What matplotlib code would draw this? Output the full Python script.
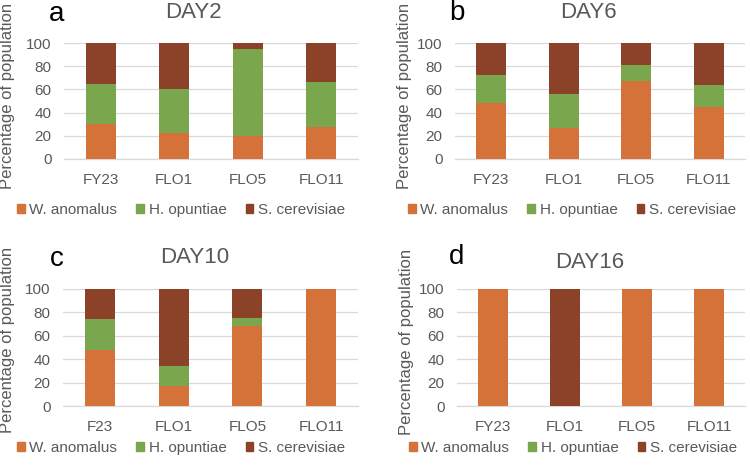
import matplotlib
matplotlib.use("Agg")
import matplotlib.pyplot as plt
from matplotlib.patches import Patch

plt.rcParams["font.family"] = ["Liberation Sans", "DejaVu Sans"]

species = ["W. anomalus", "H. opuntiae", "S. cerevisiae"]
colors = ["#D57239", "#7AA64E", "#8C4129"]

strains = ["FY23", "FLO1", "FLO5", "FLO11"]
strains_c = ["F23", "FLO1", "FLO5", "FLO11"]

# percentages per strain: W. anomalus, H. opuntiae, S. cerevisiae
day2_w = [30, 22, 20, 28]
day2_h = [35, 38, 75, 38]
day2_s = [35, 40, 5, 34]

day6_w = [48, 27, 67, 45]
day6_h = [24, 29, 14, 19]
day6_s = [28, 44, 19, 36]

day10_w = [48, 17, 68.5, 100]
day10_h = [26, 17, 6.5, 0]
day10_s = [26, 66, 25, 0]

day16_w = [100, 0, 100, 100]
day16_h = [0, 0, 0, 0]
day16_s = [0, 100, 0, 0]

W, H = 750, 465
fig = plt.figure(figsize=(W / 100, H / 100), dpi=100)
grey = "#595959"


def px(x, y):
    return x / W, 1 - y / H


panels = [
    # letter, title, labels, data, axes box (l, t, r, b), title pos, letter pos, ylabel pos, legend pos
    ("a", "DAY2", strains, (day2_w, day2_h, day2_s), (64, 43, 358, 159), (193, 13), (57, 14), (8, 96), (181, 210)),
    ("b", "DAY6", strains, (day6_w, day6_h, day6_s), (455, 43, 745, 159), (588, 13), (457, 13), (405, 96), (572, 210)),
    ("c", "DAY10", strains_c, (day10_w, day10_h, day10_s), (63, 289, 358, 406), (195, 257), (57, 259), (8, 340), (181, 448)),
    ("d", "DAY16", strains, (day16_w, day16_h, day16_s), (457, 289, 745, 406), (590, 262), (457, 257), (407, 342), (573, 448)),
]

for letter, title, labels, data, box, tpos, lpos, ypos, legpos in panels:
    l, t, r, b = box
    ax = fig.add_axes([l / W, (H - b) / H, (r - l) / W, (b - t) / H])
    x = range(len(labels))
    bottom = [0] * len(labels)
    for vals, c, name in zip(data, colors, species):
        ax.bar(x, vals, width=0.41, bottom=bottom, color=c, label=name, zorder=3)
        bottom = [bt + v for bt, v in zip(bottom, vals)]
    ax.set_xlim(-0.5, 3.5)
    ax.set_ylim(0, 100)
    ax.set_yticks(range(0, 101, 20))
    ax.set_xticks(list(x))
    ax.set_xticklabels(labels)
    ax.yaxis.grid(True, color="#D9D9D9", linewidth=0.9, zorder=0)
    for s in ["top", "right", "left"]:
        ax.spines[s].set_visible(False)
    ax.spines["bottom"].set_color("#D9D9D9")
    ax.spines["bottom"].set_linewidth(0.9)
    ax.tick_params(length=0, labelsize=11, labelcolor=grey)
    ax.tick_params(axis="y", pad=9)
    ax.tick_params(axis="x", pad=10)

    fig.text(*px(*tpos), title, fontsize=16, color=grey, ha="center", va="center")
    fig.text(*px(*lpos), letter, fontsize=20, color="black", ha="center", va="center")
    fig.text(*px(*ypos), "Percentage of population", fontsize=12, color=grey,
             rotation=90, ha="center", va="center")

    handles = [Patch(color=c) for c in colors]
    leg = fig.legend(handles, species, loc="center", bbox_to_anchor=px(*legpos),
                     ncol=3, frameon=False, fontsize=11, handlelength=0.5,
                     handleheight=0.5, handletextpad=0.3, columnspacing=1.25,
                     borderaxespad=0, borderpad=0)
    for txt in leg.get_texts():
        txt.set_color(grey)

fig.savefig("out.png", dpi=100)
